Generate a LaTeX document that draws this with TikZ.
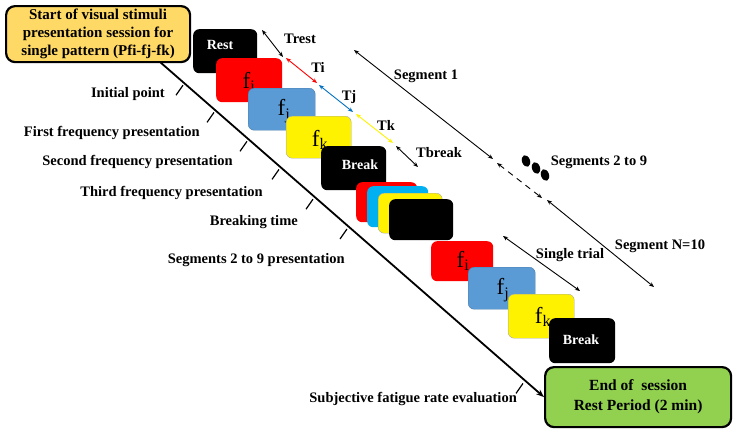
\documentclass[tikz,border=0pt]{standalone}
\usepackage{fontspec}
\setmainfont{Liberation Serif}
\usetikzlibrary{arrows.meta}
\definecolor{startc}{HTML}{FFD966}
\definecolor{endc}{HTML}{92D050}
\definecolor{fblue}{HTML}{5B9BD5}
\definecolor{fcyan}{HTML}{00B0F0}
\definecolor{tjblue}{HTML}{0070C0}
\begin{document}
\begin{tikzpicture}[x=1pt,y=-1pt,
  slide/.style={rounded corners=6pt, minimum width=66pt, minimum height=44pt, anchor=north west, inner sep=0pt},
  lab/.style={font=\fontsize{14.5}{16}\selectfont\bfseries, inner sep=0pt},
  wlab/.style={font=\fontsize{14}{16}\selectfont\bfseries, text=white, inner sep=0pt},
  flab/.style={font=\fontsize{23}{23}\selectfont, inner sep=0pt},
  dbl/.style={{Stealth[length=5pt,width=4pt]}-{Stealth[length=5pt,width=4pt]}, line width=0.9pt},
  tickln/.style={line width=1.2pt},
  bigbox/.style={draw, line width=2.2pt, rounded corners=9pt, anchor=north west, align=center, inner sep=0pt}]
\useasboundingbox (0,0) rectangle (737,432);

% start box
\node[bigbox, fill=startc, minimum width=184pt, minimum height=56pt,
      font=\fontsize{15}{18}\selectfont\bfseries] (start) at (5,5)
  {Start of visual stimuli\\presentation session for\\single pattern (Pfi-fj-fk)};

% end box
\node[bigbox, fill=endc, minimum width=186pt, minimum height=60pt,
      font=\fontsize{15.5}{20}\selectfont\bfseries] (endbox) at (544,366)
  {End of \ session\\Rest Period (2 min)};

% main timeline
\coordinate (mstart) at (160,62);
\draw[line width=1.8pt, -{Stealth[length=8pt,width=6pt]}] (mstart) -- (endbox.west);

% ticks
\foreach \tx/\ty [count=\k] in {183/85.2, 214/112.4, 247/141.3, 279/169.4, 313/199.2, 347/229, 523/383.4}{
  \coordinate (tk\k) at (\tx,\ty);
  \draw[tickln] (tk\k) -- ++(-7,10);
}

% tick labels
\node[lab, anchor=east] (l1) at (165,94) {Initial point};
\node[lab, anchor=east] (l2) at (200,133) {First frequency presentation};
\node[lab, anchor=east] (l3) at (233,162) {Second frequency presentation};
\node[lab, anchor=east] (l4) at (263,193) {Third frequency presentation};
\node[lab, anchor=east] (l5) at (298,222) {Breaking time};
\node[lab, anchor=east] (l6) at (345,260) {Segments 2 to 9 presentation};
\node[lab, anchor=east] (l7) at (517,399) {Subjective fatigue rate evaluation};

% first segment slides
\node[slide, fill=black, minimum width=64pt] (rest) at (193,29) {};
\node[wlab] (restlbl) at (220,45) {Rest};
\node[slide, fill=red] (fi1) at (216,58) {};
\node[flab] (fi1l) at (249,82) {f\textsubscript{i}};
\node[slide, fill=fblue, draw=fblue!80!black, line width=0.4pt, minimum width=67pt, minimum height=42pt] (fj1) at (248,88) {};
\node[flab] (fj1l) at (284,111) {f\textsubscript{j}};
\node[slide, fill=yellow, draw=gray!70, line width=0.4pt, minimum width=65pt, minimum height=42pt] (fk1) at (286,116) {};
\node[flab] (fk1l) at (320,140) {f\textsubscript{k}};
\node[slide, fill=black, minimum width=65pt] (brk1) at (321,146) {};
\node[wlab] (brk1l) at (360,165) {Break};

% stacked slides
\node[slide, fill=red, minimum width=61pt, minimum height=40pt] (s1) at (356,182) {};
\node[slide, fill=fcyan, minimum width=61pt, minimum height=41pt] (s2) at (367,186) {};
\node[slide, fill=yellow, draw=gray!70, line width=0.4pt, minimum width=64pt, minimum height=40pt] (s3) at (378,193) {};
\node[slide, fill=black, minimum width=64pt, minimum height=41pt] (s4) at (389,199) {};

% last segment slides
\node[slide, fill=red, minimum width=62pt, minimum height=40pt] (fi2) at (431,241) {};
\node[flab] (fi2l) at (463,261) {f\textsubscript{i}};
\node[slide, fill=fblue, draw=fblue!80!black, line width=0.4pt, minimum width=67pt, minimum height=42pt] (fj2) at (468,267) {};
\node[flab] (fj2l) at (503,290) {f\textsubscript{j}};
\node[slide, fill=yellow, draw=gray!70, line width=0.4pt, minimum width=66pt, minimum height=44pt] (fk2) at (508,294) {};
\node[flab] (fk2l) at (543,317) {f\textsubscript{k}};
\node[slide, fill=black, minimum width=66pt, minimum height=45pt] (brk2) at (549,318) {};
\node[wlab] (brk2l) at (581,340) {Break};

% duration arrows
\coordinate (tr1) at (262,30);  \coordinate (tr2) at (283,57);
\coordinate (ti1) at (286,58);  \coordinate (ti2) at (317,83);
\coordinate (tj1) at (319,85);  \coordinate (tj2) at (353,112);
\coordinate (tk1a) at (356,114); \coordinate (tk2a) at (393,143);
\coordinate (tb1) at (396,146); \coordinate (tb2) at (418,167);
\draw[dbl] (tr1) -- (tr2);
\draw[dbl, red] (ti1) -- (ti2);
\draw[dbl, tjblue] (tj1) -- (tj2);
\draw[dbl, yellow] (tk1a) -- (tk2a);
\draw[dbl] (tb1) -- (tb2);
\node[lab] (trl) at (300,39) {Trest};
\node[lab] (til) at (318,67) {Ti};
\node[lab] (tjl) at (349,97) {Tj};
\node[lab] (tkl) at (386,125) {Tk};
\node[lab] (tbl) at (439,153) {Tbreak};

% segment arrows
\coordinate (sg1a) at (354,50);  \coordinate (sg1b) at (493,159);
\coordinate (sda) at (497,163);  \coordinate (sdb) at (542,198);
\coordinate (sna) at (547,200);  \coordinate (snb) at (654,287);
\coordinate (sta) at (503,236);  \coordinate (stb) at (580,291);
\draw[dbl] (sg1a) -- (sg1b);
\draw[dbl, dash pattern=on 6pt off 5pt] (sda) -- (sdb);
\draw[dbl] (sna) -- (snb);
\draw[dbl] (sta) -- (stb);
\node[lab] (sg1l) at (426,76) {Segment 1};
\node[lab] (snl) at (660,246) {Segment N=10};
\node[lab] (stl) at (570,255) {Single trial};

% dots
\fill[rotate around={20:(526,161)}] (526,161) ellipse [x radius=4, y radius=6];
\fill[rotate around={20:(536,168)}] (536,168) ellipse [x radius=4, y radius=6];
\fill[rotate around={20:(545,175)}] (545,175) ellipse [x radius=4, y radius=6];
\node[lab] (s29l) at (599,162) {Segments 2 to 9};
\end{tikzpicture}
\end{document}
